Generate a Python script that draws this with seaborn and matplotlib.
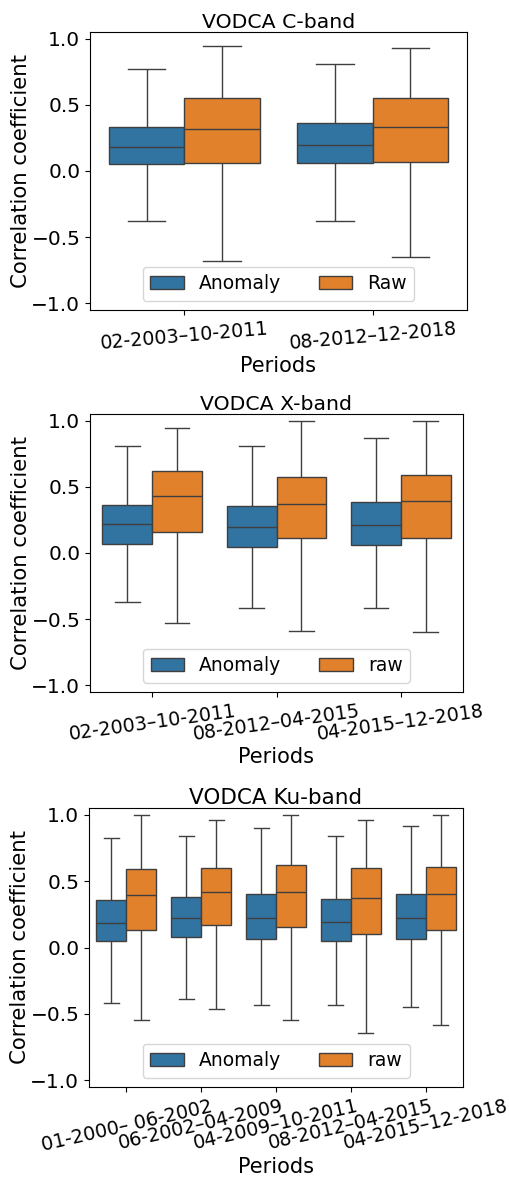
import numpy as np
import pandas as pd
import seaborn as sns
import matplotlib.pyplot as plt

# box summaries: lower whisker, q1, median, q3, upper whisker
c_periods = ['02-2003–10-2011', '08-2012–12-2018']
c_anom = [[-0.38, 0.053, 0.183, 0.333, 0.767],
          [-0.38, 0.060, 0.198, 0.361, 0.805]]
c_raw = [[-0.679, 0.060, 0.316, 0.554, 0.942],
         [-0.652, 0.070, 0.333, 0.554, 0.930]]

x_periods = ['02-2003–10-2011', '08-2012–04-2015', '04-2015–12-2018']
x_anom = [[-0.372, 0.071, 0.218, 0.365, 0.810],
          [-0.418, 0.046, 0.195, 0.352, 0.810],
          [-0.418, 0.061, 0.210, 0.382, 0.868]]
x_raw = [[-0.532, 0.157, 0.433, 0.620, 0.947],
         [-0.590, 0.111, 0.372, 0.577, 1.000],
         [-0.600, 0.111, 0.392, 0.587, 1.000]]

ku_periods = ['01-2000– 06-2002', '06-2002–04-2009', '04-2009–10-2011',
              '08-2012–04-2015', '04-2015–12-2018']
ku_anom = [[-0.420, 0.046, 0.183, 0.357, 0.821],
           [-0.385, 0.077, 0.225, 0.382, 0.840],
           [-0.431, 0.064, 0.223, 0.399, 0.899],
           [-0.431, 0.046, 0.193, 0.367, 0.840],
           [-0.450, 0.064, 0.223, 0.405, 0.911]]
ku_raw = [[-0.544, 0.135, 0.394, 0.589, 1.000],
          [-0.462, 0.170, 0.414, 0.596, 0.957],
          [-0.547, 0.155, 0.414, 0.619, 1.000],
          [-0.642, 0.102, 0.374, 0.596, 0.957],
          [-0.584, 0.135, 0.405, 0.606, 0.997]]

panels = [
    ('VODCA C-band', c_periods, c_anom, c_raw, ['Anomaly', 'Raw'], 5, 14.7),
    ('VODCA X-band', x_periods, x_anom, x_raw, ['Anomaly', 'raw'], 8, 14.7),
    ('VODCA Ku-band', ku_periods, ku_anom, ku_raw, ['Anomaly', 'raw'], 13, 15.5),
]

# axes boxes in pixels: left, right, top, bottom
boxes = [(90, 467, 32, 310), (90, 463, 414, 692), (89, 463, 808, 1087)]

W, H = 509, 1180
fig = plt.figure(figsize=(W / 100, H / 100), dpi=100)

for (title, periods, anom, raw, names, rot, tsize), (l, r, t, b) in zip(panels, boxes):
    ax = fig.add_axes([l / W, 1 - b / H, (r - l) / W, (b - t) / H])
    rows = []
    for p, a, w in zip(periods, anom, raw):
        for v in a:
            rows.append((p, names[0], v))
        for v in w:
            rows.append((p, names[1], v))
    df = pd.DataFrame(rows, columns=['period', 'type', 'r'])
    sns.boxplot(data=df, x='period', y='r', hue='type', whis=(0, 100),
                palette=['tab:blue', 'tab:orange'], ax=ax)
    ax.set_ylim(-1.05, 1.05)
    ax.set_yticks([-1.0, -0.5, 0.0, 0.5, 1.0])
    ax.set_title(title, fontsize=tsize, pad=3)
    ax.set_xlabel('Periods', fontsize=15, labelpad=2)
    ax.set_ylabel('Correlation coefficient', fontsize=15.3, labelpad=0.5)
    ax.tick_params(labelsize=14.5)
    plt.setp(ax.get_xticklabels(), rotation=rot, fontsize=13.8)
    sns.move_legend(ax, 'lower center', ncol=2, title=None, fontsize=13.5,
                    handlelength=1.8)

fig.savefig('out.png', dpi=100)
